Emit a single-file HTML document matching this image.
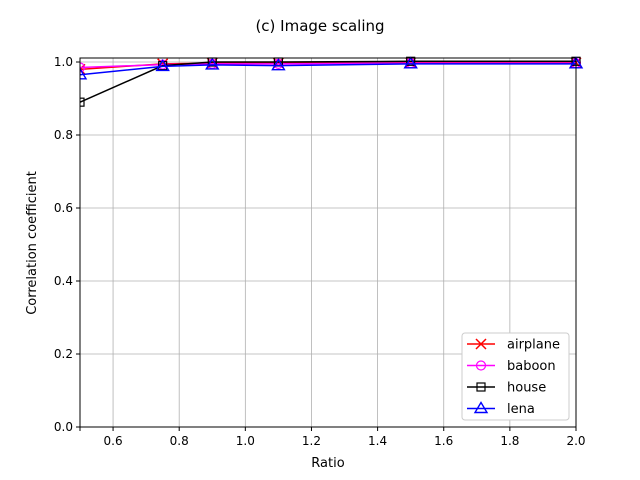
<!DOCTYPE html>
<html><head><meta charset="utf-8"><style>body{margin:0;background:#fff}svg{display:block;font-family:"DejaVu Sans","Liberation Sans",sans-serif}</style></head>
<body>
<svg id="c" width="640" height="480" xmlns="http://www.w3.org/2000/svg"></svg>
<script>
const xs=[0.5,0.75,0.9,1.1,1.5,2.0];
const airplane=[0.980,0.995,0.997,0.997,0.998,0.998];
const baboon=[0.985,0.993,0.995,0.995,0.997,0.997];
const house=[0.890,0.990,1.000,1.000,1.002,1.002];
const lena=[0.965,0.988,0.992,0.990,0.995,0.995];
const xticks=[0.6,0.8,1.0,1.2,1.4,1.6,1.8,2.0];
const yticks=[0.0,0.2,0.4,0.6,0.8,1.0];
const L=80,R=576,T=58,B=427,xmin=0.5,xmax=2.0,ymin=0,ymax=1.011;
const X=v=>L+(v-xmin)/(xmax-xmin)*(R-L), Y=v=>B-(v-ymin)/(ymax-ymin)*(B-T);
const svg=document.getElementById('c');const NS='http://www.w3.org/2000/svg';
function mk(t,a,p){const e=document.createElementNS(NS,t);for(const k in a)e.setAttribute(k,a[k]);(p||svg).appendChild(e);return e;}
let e;
e=mk('text',{x:320,y:31,'text-anchor':'middle','font-size':15});e.textContent='(c) Image scaling';


xticks.forEach(t=>{mk('line',{x1:X(t),x2:X(t),y1:T,y2:B,stroke:'#b0b0b0','stroke-width':0.8});mk('line',{x1:X(t),x2:X(t),y1:B,y2:B+4,stroke:'#000'});
e=mk('text',{x:X(t),y:B+18,'text-anchor':'middle','font-size':12});e.textContent=t.toFixed(1);

});
mk('line',{x1:L,x2:L,y1:B,y2:B+4,stroke:'#000'});
yticks.forEach(t=>{mk('line',{x1:L,x2:R,y1:Y(t),y2:Y(t),stroke:'#b0b0b0','stroke-width':0.8});mk('line',{x1:L-4,x2:L,y1:Y(t),y2:Y(t),stroke:'#000'});
e=mk('text',{x:L-7,y:Y(t)+4,'text-anchor':'end','font-size':12});e.textContent=t.toFixed(1);

});
e=mk('text',{x:328,y:467,'text-anchor':'middle','font-size':13});e.textContent='Ratio';


e=mk('text',{x:36,y:243,'text-anchor':'middle','font-size':13,transform:'rotate(-90 36 243)'});e.textContent='Correlation coefficient';


const clip=mk('clipPath',{id:'cp'});mk('rect',{x:L,y:T-8,width:R-L+8,height:B-T+8},clip);
function marker(type,x,y,col,g){
 if(type==='x'){mk('path',{d:`M${x-5} ${y-5}L${x+5} ${y+5}M${x-5} ${y+5}L${x+5} ${y-5}`,stroke:col,'stroke-width':1.5},g);}
 else if(type==='o'){mk('circle',{cx:x,cy:y,r:4.5,fill:'none',stroke:col,'stroke-width':1.2},g);}
 else if(type==='s'){mk('rect',{x:x-4,y:y-4,width:8,height:8,fill:'none',stroke:col,'stroke-width':1.2},g);}
 else {mk('path',{d:`M${x} ${y-6}L${x+6} ${y+4}L${x-6} ${y+4}Z`,fill:'none',stroke:col,'stroke-width':1.4},g);}
}
const series=[['airplane',airplane,'red','x'],['baboon',baboon,'magenta','o'],['house',house,'black','s'],['lena',lena,'blue','^']];
series.forEach(([n,d,c,m])=>{const g=mk('g',{'clip-path':'url(#cp)'});


mk('polyline',{points:xs.map((x,i)=>X(x)+','+Y(d[i])).join(' '),fill:'none',stroke:c,'stroke-width':1.5},g);
xs.forEach((x,i)=>marker(m,X(x),Y(d[i]),c,g));});
mk('rect',{x:L,y:T,width:R-L,height:B-T,fill:'none',stroke:'#000','stroke-width':1});
const lg=mk('g',{});


mk('rect',{x:462,y:333,width:107,height:87,rx:3,fill:'#fff',stroke:'#ccc'},lg);
series.forEach(([n,d,c,m],i)=>{const y=344+i*21.5;const g=mk('g',{},lg);


mk('line',{x1:467,x2:495,y1:y,y2:y,stroke:c,'stroke-width':1.5},g);marker(m,481,y,c,g);
const t=mk('text',{x:507,y:y+4.5,'font-size':13},g);t.textContent=n;});
</script>
</body></html>
